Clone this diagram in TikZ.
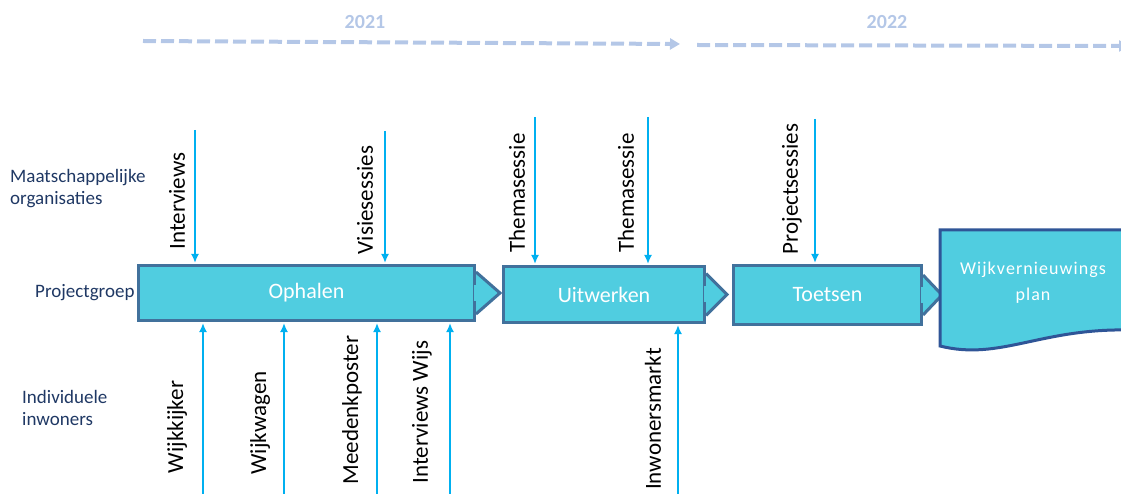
\documentclass[tikz,border=0pt]{standalone}
\usepackage{fontspec}
\setmainfont{Carlito}
\usetikzlibrary{positioning,calc,arrows.meta}
\definecolor{boxfill}{RGB}{80,205,224}
\definecolor{boxline}{RGB}{65,113,156}
\definecolor{docline}{RGB}{47,85,151}
\definecolor{feedblue}{RGB}{0,176,240}
\definecolor{yearblue}{RGB}{180,199,231}
\definecolor{navy}{RGB}{31,56,100}

\begin{document}
\begin{tikzpicture}[x=1pt,y=1pt,>={Latex[length=9pt,width=8pt]},
        stage/.style={draw=boxline,line width=3pt,fill=boxfill,text=white,inner sep=0pt,
            font=\fontsize{22}{26}\selectfont},
        feed/.style={->,draw=feedblue,line width=2pt,shorten >=1pt},
        lbl/.style={rotate=90,inner sep=0pt,font=\fontsize{23}{27}\selectfont},
        actor/.style={text=navy,align=left,anchor=west,inner sep=0pt,
            font=\fontsize{19}{22}\selectfont},
        yearline/.style={yearblue,line width=4pt,dash pattern=on 13pt off 5pt},
        yeartext/.style={text=yearblue,font=\bfseries\fontsize{20}{24}\selectfont}]
        \useasboundingbox (0,0) rectangle (1121,493);

        % time line
        \node[yeartext] (y2021) at (365,471) {2021};
        \node[yeartext] (y2022) at (887,471) {2022};
        \coordinate (t1) at (143,452);
        \coordinate (t2) at (680,449);
        \coordinate (t3) at (697,448);
        \coordinate (t4) at (1129,447);
        \draw[yearline,-{Triangle[length=10pt,width=11pt]}] (t1) -- (t2);
        \draw[yearline,-{Triangle[length=10pt,width=11pt]}] (t3) -- (t4);

        % groups
        \node[actor] (maatsch) at (10,304) {Maatschappelijke\\organisaties};
        \node[actor] (projgr) at (35,200) {Projectgroep};
        \node[actor] (inwoners) at (22,85) {Individuele\\inwoners};

        % phases
        \node[stage,minimum width=336,minimum height=55] (ophalen) at (306.5,200) {Ophalen};
        \node[stage,minimum width=201,minimum height=56] (uitwerken) at (604,198.5) {Uitwerken};
        \node[stage,minimum width=188,minimum height=59] (toetsen) at (827.5,198) {Toetsen};

        \foreach \b/\w/\h in {ophalen/24/21, uitwerken/21/21, toetsen/19/20} {
                \fill[boxfill] ([yshift=\h]\b.east) -- ++(\w,-\h) -- ([yshift=-\h]\b.east) -- cycle;
                \draw[boxline,line width=3pt] ([yshift=\h]\b.east) -- ++(\w,-\h) -- ([yshift=-\h]\b.east);
                \fill[boxfill] ([xshift=-2,yshift=-8]\b.east) rectangle ([xshift=3,yshift=8]\b.east);
        }

        % result
        \draw[fill=boxfill,draw=docline,line width=3pt] (1130,163)
            .. controls (1040,165) and (1000,132) .. (940,147) -- (940,263) -- (1130,263);
        \node[text=white,align=center,inner sep=0pt,
            font=\fontsize{18}{26}\selectfont\addfontfeature{LetterSpace=6}] (plan) at (1033,210)
            {Wijkvernieuwings\\plan};

        % input from organisations
        \coordinate (in1) at (195,363);
        \coordinate (in2) at (385,362);
        \coordinate (in3) at (535,376);
        \coordinate (in4) at (648,376);
        \coordinate (in5) at (815,374);
        \draw[feed] (in1) -- (in1 |- ophalen.north);
        \draw[feed] (in2) -- (in2 |- ophalen.north);
        \draw[feed] (in3) -- (in3 |- uitwerken.north);
        \draw[feed] (in4) -- (in4 |- uitwerken.north);
        \draw[feed] (in5) -- (in5 |- toetsen.north);
        \node[lbl] (interviews) at (177,292) {Interviews};
        \node[lbl] (visie) at (365,293) {Visiesessies};
        \node[lbl] (thema1) at (517,300) {Themasessie};
        \node[lbl] (thema2) at (626,300) {Themasessie};
        \node[lbl] (project) at (792,304) {Projectsessies};

        % input from residents
        \coordinate (out1) at (203,-2);
        \coordinate (out2) at (284,-2);
        \coordinate (out3) at (377,-2);
        \coordinate (out4) at (450,-2);
        \coordinate (out5) at (678,-2);
        \draw[feed] (out1) -- (out1 |- ophalen.south);
        \draw[feed] (out2) -- (out2 |- ophalen.south);
        \draw[feed] (out3) -- (out3 |- ophalen.south);
        \draw[feed] (out4) -- (out4 |- ophalen.south);
        \draw[feed] (out5) -- (out5 |- uitwerken.south);
        \node[lbl] (kijker) at (177,66) {Wijkkijker};
        \node[lbl] (wagen) at (260,70) {Wijkwagen};
        \node[lbl] (poster) at (352,83) {Meedenkposter};
        \node[lbl] (wijs) at (422,81) {Interviews Wijs};
        \node[lbl] (markt) at (653,74) {Inwonersmarkt};
\end{tikzpicture}
\end{document}
